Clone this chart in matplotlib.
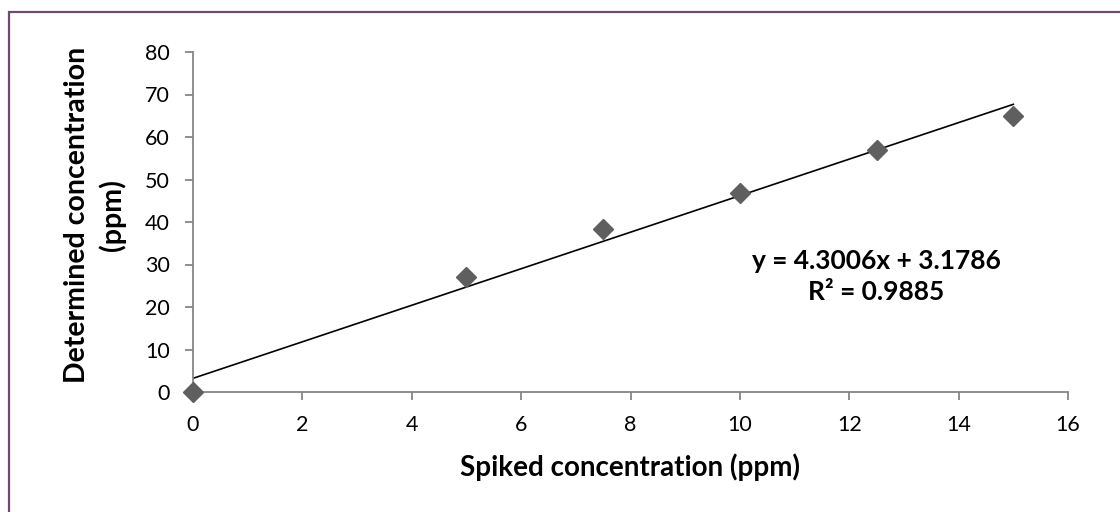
import numpy as np
import matplotlib
matplotlib.use("Agg")
import matplotlib.pyplot as plt
from matplotlib.patches import Rectangle

# Data
spiked = [0, 5, 7.5, 10, 12.5, 15]
determined = [0, 27, 38.4, 46.8, 57, 65]
x_ticks = [0, 2, 4, 6, 8, 10, 12, 14, 16]
y_ticks = [0, 10, 20, 30, 40, 50, 60, 70, 80]
equation_text = "y = 4.3006x + 3.1786\nR² = 0.9885"
x_label = "Spiked concentration (ppm)"
y_label = "Determined concentration\n(ppm)"

plt.rcParams['font.family'] = ['Lato', 'DejaVu Sans']

fig = plt.figure(figsize=(11.2, 5.12), dpi=100)
ax = fig.add_axes([193/1120, 1-392/512, (1068-193)/1120, (392-52)/512])

# frame around chart area (top and left visible)
fig.patches.append(Rectangle((8.5/1120, -0.05), 1.2, 1-12/512+0.05, transform=fig.transFigure,
                             fill=False, edgecolor='#6e4c6e', linewidth=1.6, zorder=0))

slope, intercept = np.polyfit(spiked, determined, 1)
xs = np.array([min(spiked), max(spiked)])
ax.plot(xs, slope*xs + intercept, color='black', linewidth=1.2, zorder=2)
ax.plot(spiked, determined, linestyle='none', marker='D', markersize=10,
        color='#5f5f5f', zorder=3, clip_on=False)

ax.set_xlim(0, 16)
ax.set_ylim(0, 80)
ax.set_xticks(x_ticks)
ax.set_yticks(y_ticks)
ax.tick_params(axis='both', direction='out', length=5.5, width=1.3, color='#868686',
               labelsize=15.5)
ax.tick_params(axis='x', pad=11)
ax.tick_params(axis='y', pad=11)
for s in ['top', 'right']:
    ax.spines[s].set_visible(False)
for s in ['left', 'bottom']:
    ax.spines[s].set_color('#868686')
    ax.spines[s].set_linewidth(1.3)

ax.set_xlabel(x_label, fontsize=20, fontweight='bold', va='center')
ax.xaxis.set_label_coords(0.5, (392-467)/340)
ax.set_ylabel(y_label, fontsize=20.5, fontweight='bold', linespacing=1.4, va='center')
ax.yaxis.set_label_coords((95-193)/875, (392-215)/340)

ax.text(12.5, 27.2, equation_text, ha='center', va='center', fontsize=19,
        fontweight='bold', linespacing=1.35)

fig.savefig("out.png", dpi=100, facecolor='white')
